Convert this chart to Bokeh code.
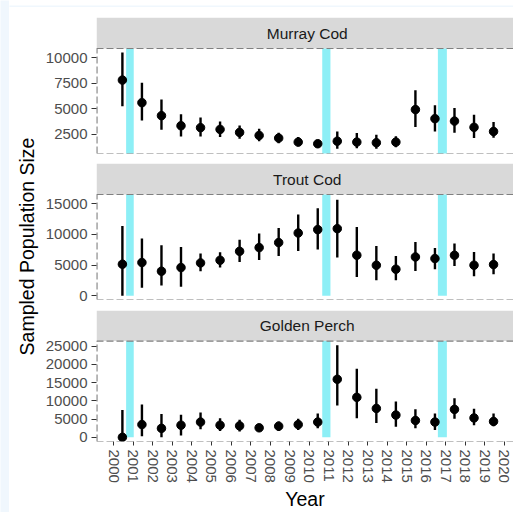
from bokeh.plotting import figure
from bokeh.layouts import row, column
from bokeh.models import Range1d, FixedTicker, Span
from bokeh.core.properties import value
from bokeh.embed import file_html
from bokeh.resources import INLINE

# ---------------- data ----------------
years = list(range(2000, 2020))
species = ["Murray Cod", "Trout Cod", "Golden Perch"]

murray_est = [7800, 5600, 4330, 3350, 3160, 2990, 2700, 2400, 2140, 1750,
              1590, 1840, 1750, 1690, 1750, 4920, 4040, 3800, 3190, 2790]
murray_lo = [5240, 3870, 2960, 2300, 2300, 2240, 2080, 1840, 1650, 1350,
             1200, 1100, 1160, 1100, 1260, 3220, 2790, 2660, 2140, 2180]
murray_hi = [10500, 7530, 5900, 4460, 4140, 3770, 3380, 3060, 2660, 2240,
             1980, 2790, 2630, 2470, 2330, 6810, 5340, 5080, 4430, 3700]

trout_est = [5150, 5420, 4010, 4600, 5360, 5790, 7250, 7850, 8670, 10230,
             10780, 10940, 6610, 4980, 4330, 6330, 6070, 6610, 4980, 5090]
trout_lo = [0, 1300, 1700, 1460, 4010, 4600, 5520, 5850, 6490, 7300,
            7530, 6230, 3080, 2550, 2550, 4060, 4330, 4870, 3200, 3520]
trout_hi = [11360, 9320, 8230, 7950, 6880, 7090, 9150, 10130, 11040, 13260,
            14280, 15650, 11200, 8120, 6490, 8760, 7790, 8500, 7140, 6880]

golden_est = [0, 3490, 2450, 3310, 4170, 3310, 3130, 2600, 3050, 3490,
              4170, 15890, 10940, 7910, 6090, 4610, 4170, 7650, 5310, 4350]
golden_lo = [0, 260, 0, 520, 2190, 1740, 1560, 1560, 1740, 2000,
             2450, 8700, 5210, 3910, 2860, 2450, 2000, 5050, 3310, 3050]
golden_hi = [7470, 8960, 6350, 6170, 6770, 5210, 4790, 3490, 4350, 5050,
             6510, 25180, 18750, 13280, 9820, 7650, 6510, 10680, 7810, 6510]

# event bands (decimal years), drawn from 0 upward
band_start = [2000.63, 2010.67, 2016.59]
band_end = [2001.02, 2011.09, 2017.05]
band_floor = 0

y_ticks = [[2500, 5000, 7500, 10000],
           [0, 5000, 10000, 15000],
           [0, 5000, 10000, 15000, 20000, 25000]]
y_limits = [(640, 10880), (-600, 16500), (-1150, 26350)]
x_ticks = list(range(2000, 2021))

ests = [murray_est, trout_est, golden_est]
los = [murray_lo, trout_lo, golden_lo]
his = [murray_hi, trout_hi, golden_hi]

# ---------------- style ----------------
FONT = value("Liberation Sans")
TICK_COL = "#4D4D4D"
BAND_COL = "#8DEFF6"
BORDER_COL = "#808080"
STRIP_COL = "#D9D9D9"
PAGE_BG = "#F0F7FD"
sample_offset = 0.44

x_range = Range1d(1999.114, 2020.461)
LEFT = 55
W = 472

tops = [10, 0, 0]
strip_h = [31, 31, 32]
panel_h = 105
bottoms = [10, 11, 65]
strip_text_x = 2009.9


def blank(width, height, color):
    f = figure(width=width, height=height, output_backend="svg", toolbar_location=None,
               min_border=0, background_fill_color=color, border_fill_color=color,
               outline_line_color=None, x_range=Range1d(0, 1), y_range=Range1d(0, 1))
    f.axis.visible = False
    f.grid.visible = False
    return f


figs = []
for i, name in enumerate(species):
    y0, y1 = y_limits[i]
    y_strip_top = y1 + strip_h[i] / panel_h * (y1 - y0)
    p = figure(width=W, height=tops[i] + strip_h[i] + panel_h + bottoms[i],
               x_range=x_range, y_range=Range1d(y0, y_strip_top),
               output_backend="svg", toolbar_location=None,
               min_border_left=LEFT, min_border_right=0, min_border_top=tops[i],
               min_border_bottom=bottoms[i], background_fill_color="white",
               border_fill_color="white", outline_line_color=None)
    p.grid.visible = False

    # facet strip
    p.quad(left=[x_range.start], right=[x_range.end], bottom=[y1], top=[y_strip_top],
           fill_color=STRIP_COL, line_color=None)
    p.text(x=[strip_text_x], y=[(y1 + y_strip_top) / 2], text=[name], text_align="center",
           text_baseline="middle", text_font=FONT, text_font_size="15.5px",
           text_color="#1A1A1A")

    # event bands
    p.quad(left=band_start, right=band_end, bottom=band_floor, top=y1,
           fill_color=BAND_COL, line_color=None)

    # left panel border (half of a double-width line is clipped by the frame)
    p.segment(x0=[x_range.start], y0=[y0], x1=[x_range.start], y1=[y1],
              line_color=BORDER_COL, line_width=2.2, line_dash="7 3")

    xs = [yr + sample_offset for yr in years]
    p.segment(x0=xs, y0=los[i], x1=xs, y1=his[i], line_color="black", line_width=2.4)
    p.scatter(x=xs, y=ests[i], size=8.5, fill_color="black", line_color="black")

    for loc in (y0, y1):
        p.add_layout(Span(location=loc, dimension="width", line_color=BORDER_COL,
                          line_width=1.1, line_dash="7 3"))

    p.yaxis.ticker = FixedTicker(ticks=y_ticks[i])
    p.yaxis.axis_line_color = None
    p.yaxis.major_tick_line_color = "#333333"
    p.yaxis.major_tick_out = 5
    p.yaxis.major_tick_in = 0
    p.yaxis.minor_tick_line_color = None
    p.yaxis.major_label_standoff = 4
    p.yaxis.major_label_text_font = "Liberation Sans"
    p.yaxis.major_label_text_font_size = "15px"
    p.yaxis.major_label_text_color = TICK_COL

    if i < 2:
        p.xaxis.visible = False
    else:
        p.xaxis.ticker = FixedTicker(ticks=x_ticks)
        p.xaxis.axis_line_color = None
        p.xaxis.major_tick_line_color = "#333333"
        p.xaxis.major_tick_out = 4
        p.xaxis.major_tick_in = 0
        p.xaxis.minor_tick_line_color = None
        p.xaxis.major_label_orientation = "vertical"
        p.xaxis.major_label_standoff = 4
        p.xaxis.major_label_text_font = "Liberation Sans"
        p.xaxis.major_label_text_font_size = "15px"
        p.xaxis.major_label_text_color = TICK_COL
        p.xaxis.axis_label = "Year"
        p.xaxis.axis_label_standoff = 2
        p.xaxis.axis_label_text_font = "Liberation Sans"
        p.xaxis.axis_label_text_font_size = "19.5px"
        p.xaxis.axis_label_text_font_style = "normal"
        p.xaxis.axis_label_text_color = "black"
    figs.append(p)

TOTAL_H = sum(tops) + sum(strip_h) + 3 * panel_h + sum(bottoms)

# shared y-axis title, drawn as the axis label of a narrow helper figure
lab = figure(width=32, height=TOTAL_H, x_range=Range1d(0, 1), y_range=Range1d(0, 1),
             output_backend="svg", toolbar_location=None, min_border_left=31,
             min_border_right=0, min_border_top=0, min_border_bottom=27,
             outline_line_color=None, border_fill_color="white",
             background_fill_color="white")
lab.xaxis.visible = False
lab.grid.visible = False
lab.yaxis.ticker = FixedTicker(ticks=[])
lab.yaxis.axis_line_color = None
lab.yaxis.major_tick_line_color = None
lab.yaxis.minor_tick_line_color = None
lab.yaxis.major_label_text_font_size = "0px"
lab.yaxis.major_label_standoff = 0
lab.yaxis.axis_label = "Sampled Population Size"
lab.yaxis.axis_label_standoff = 3
lab.yaxis.axis_label_text_font = "Liberation Sans"
lab.yaxis.axis_label_text_font_size = "19.5px"
lab.yaxis.axis_label_text_font_style = "normal"
lab.yaxis.axis_label_text_color = "black"

left_bar = blank(9, 7 + TOTAL_H, PAGE_BG)
top_bar = blank(32 + W, 7, PAGE_BG)

layout = row(left_bar,
             column(top_bar, row(lab, column(*figs, spacing=0), spacing=0), spacing=0),
             spacing=0)
open("out.html", "w").write(file_html(layout, INLINE))
